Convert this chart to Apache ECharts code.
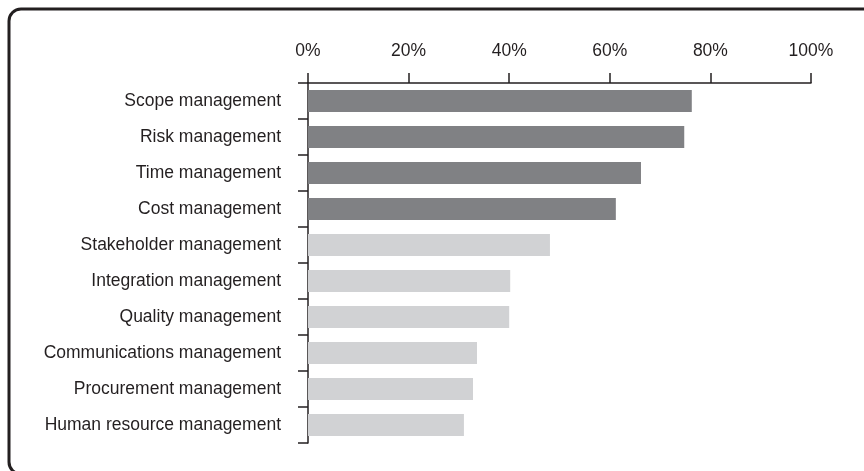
<!DOCTYPE html>
<html>
<head>
<meta charset="utf-8">
<script src="https://cdn.jsdelivr.net/npm/echarts@6/dist/echarts.min.js"></script>
<style>
  html, body { margin: 0; padding: 0; background: #ffffff; }
  #chart { width: 864px; height: 471px; }
</style>
</head>
<body>
<div id="chart"></div>
<script>
// Knowledge areas, top to bottom
const categories = [
  'Scope management',
  'Risk management',
  'Time management',
  'Cost management',
  'Stakeholder management',
  'Integration management',
  'Quality management',
  'Communications management',
  'Procurement management',
  'Human resource management'
];
// Share of respondents (%)
const values = [76.3, 74.8, 66.2, 61.2, 48.1, 40.2, 40.0, 33.6, 32.8, 31.0];
// The first four areas are highlighted in dark grey
const highlighted = [true, true, true, true, false, false, false, false, false, false];
const xTicks = [0, 20, 40, 60, 80, 100];

const DARK = '#808184';
const LIGHT = '#d1d2d4';
const INK = '#231f20';
const FONT = '"Liberation Sans", Arial, sans-serif';

const chart = echarts.init(document.getElementById('chart'), null, { renderer: 'canvas' });

chart.setOption({
  animation: false,
  backgroundColor: '#ffffff',
  graphic: [{
    type: 'rect',
    shape: { x: 9, y: 9, width: 900, height: 465, r: 12 },
    style: { fill: 'none', stroke: INK, lineWidth: 3 },
    silent: true,
    z: -1
  }],
  grid: { left: 308, top: 83, right: 53, bottom: 28, containLabel: false },
  xAxis: {
    type: 'value',
    position: 'top',
    min: xTicks[0],
    max: xTicks[xTicks.length - 1],
    interval: xTicks[1] - xTicks[0],
    axisLine: { show: true, lineStyle: { color: INK, width: 1.5 } },
    axisTick: { show: true, length: 10, lineStyle: { color: INK, width: 1.5 } },
    axisLabel: {
      formatter: '{value}%',
      color: INK,
      fontFamily: FONT,
      fontSize: 17.5,
      margin: 23
    },
    splitLine: { show: false }
  },
  yAxis: {
    type: 'category',
    inverse: true,
    data: categories,
    axisLine: { show: true, lineStyle: { color: INK, width: 1.5 } },
    axisTick: { show: true, length: 10, alignWithLabel: false, lineStyle: { color: INK, width: 1.5 } },
    axisLabel: {
      color: INK,
      fontFamily: FONT,
      fontSize: 17.5,
      margin: 27
    }
  },
  series: [{
    type: 'bar',
    barWidth: 22,
    data: values.map((v, i) => ({
      value: v,
      itemStyle: { color: highlighted[i] ? DARK : LIGHT }
    }))
  }]
});
</script>
</body>
</html>
